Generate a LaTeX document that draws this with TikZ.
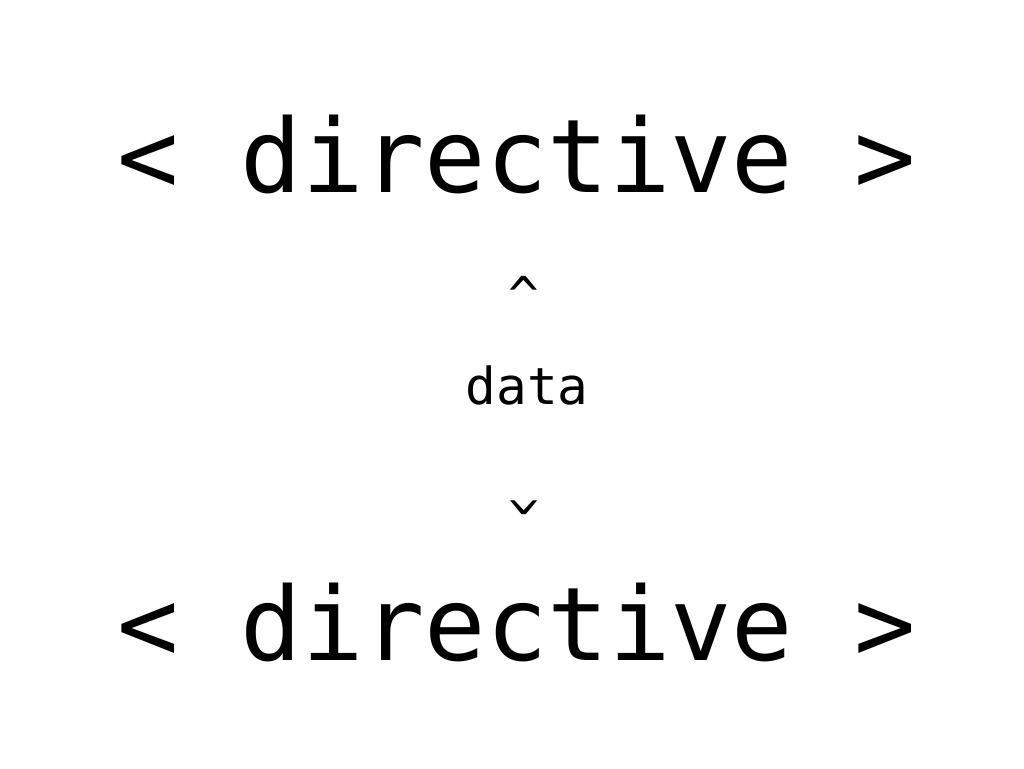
\documentclass[tikz,border=0pt]{standalone}
\usepackage{fontspec}
\setmonofont{DejaVu Sans Mono}
\usepackage{tikz}
\usetikzlibrary{positioning}
\tikzset{
  dirlbl/.style={inner sep=0pt,anchor=base,
    font=\ttfamily\fontsize{102}{110}\selectfont},
  datalbl/.style={inner sep=0pt,anchor=base,
    font=\ttfamily\fontsize{51}{60}\selectfont},
  marklbl/.style={inner sep=0pt,anchor=north,
    font=\ttfamily\fontsize{51}{60}\selectfont},
}

\begin{document}
\begin{tikzpicture}[x=1pt,y=1pt]
  \useasboundingbox (0,0) rectangle (1024,768);
  \node[dirlbl] (top) at (517,575) {< directive >};
  \node[marklbl] (up) at (524,492) {\^{}};
  \node[datalbl] (data) at (527,363) {data};
  \node[marklbl,rotate=180] (down) at (524,253) {\^{}};
  \node[dirlbl] (bot) at (517,108) {< directive >};
\end{tikzpicture}
\end{document}
